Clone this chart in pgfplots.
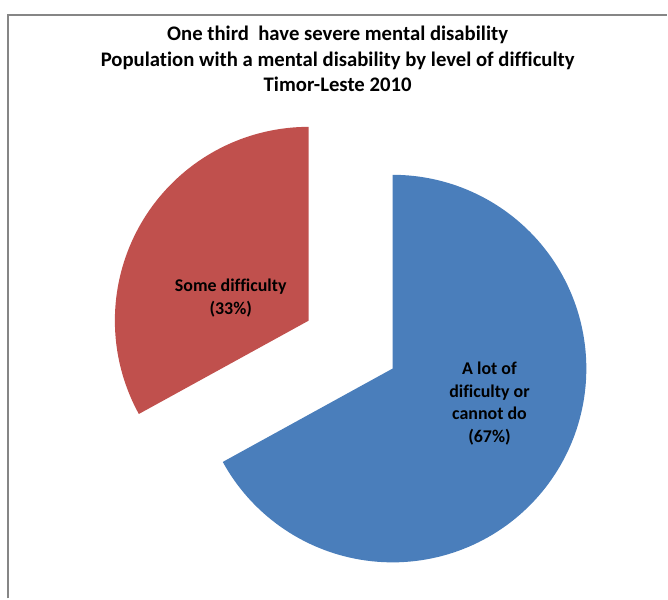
\documentclass[border=0pt]{standalone}
\usepackage{pgfplots}
\pgfplotsset{compat=1.18}
\usepackage{fontspec}
\setmainfont{Carlito}[Ligatures=NoCommon]
\definecolor{pieblue}{HTML}{4A7EBB}
\definecolor{piered}{HTML}{C0504D}
\definecolor{framegray}{HTML}{868686}
\begin{document}
\begin{tikzpicture}
\begin{axis}[width=668bp, height=599bp, scale only axis,
  xmin=0, xmax=668, ymin=0, ymax=599, hide axis, clip=false]
\path (axis cs:0,0) rectangle (axis cs:668,599);
\draw[draw=framegray, line width=1.5bp] (axis cs:8,0) -- (axis cs:8,584) -- (axis cs:668,584);
% A lot of difficulty or cannot do: 67%
\addplot[draw=none, fill=pieblue, domain={90-3.6*67}:90, samples=150]
  ({393+194*cos(x)},{230+194*sin(x)}) -- (axis cs:393,230) -- cycle;
% Some difficulty: 33% (exploded)
\addplot[draw=none, fill=piered, domain=90:{90+3.6*33}, samples=100]
  ({309+194*cos(x)},{278+194*sin(x)}) -- (axis cs:309,278) -- cycle;
\node[align=center, font=\bfseries\fontsize{20.8}{26}\selectfont] at (axis cs:338,540)
  {One third\ \ have severe mental disability\\Population with a mental disability by level of difficulty\\Timor-Leste 2010};
\node[align=center, font=\bfseries\fontsize{18}{23}\selectfont] at (axis cs:231,300.5)
  {Some difficulty\\(33\%)};
\node[align=center, font=\bfseries\fontsize{18}{22.7}\selectfont] at (axis cs:490,195)
  {A lot of\\dificulty or\\cannot do\\(67\%)};
\end{axis}
\end{tikzpicture}
\end{document}
